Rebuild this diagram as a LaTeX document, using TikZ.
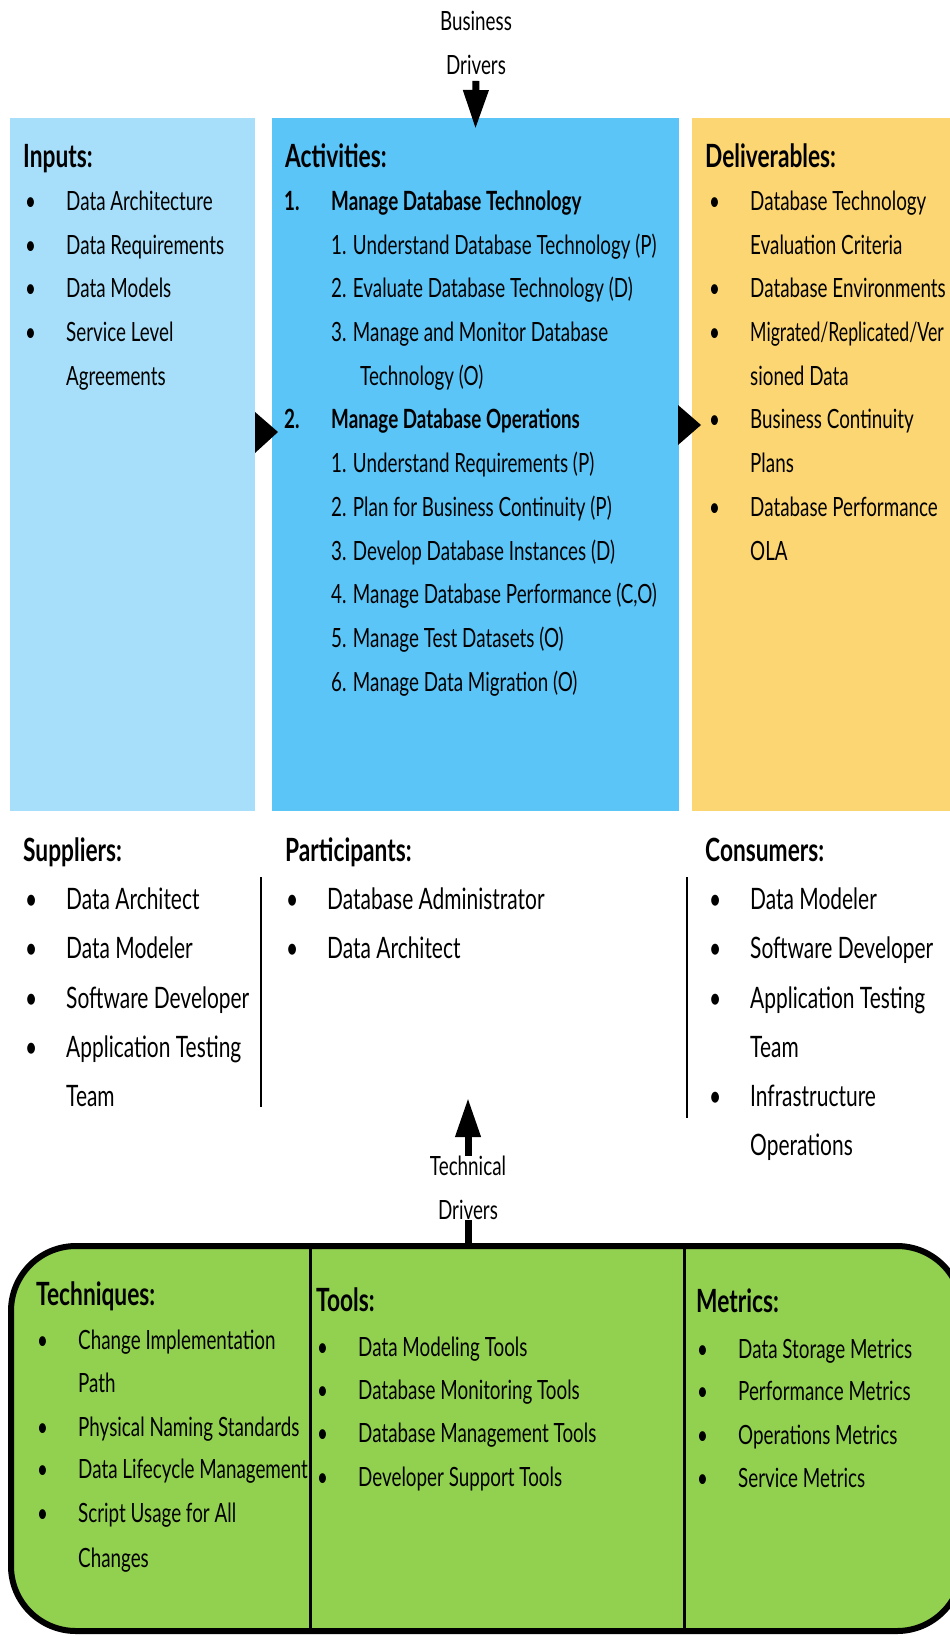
\documentclass[tikz,border=0pt]{standalone}
\usepackage{fontspec}
\setmainfont{Lato}[FakeStretch=0.71]
\usetikzlibrary{arrows.meta}

\definecolor{azulclaro}{HTML}{A7DFFA}
\definecolor{azul}{HTML}{5BC5F8}
\definecolor{amarillo}{HTML}{FCD672}
\definecolor{verde}{HTML}{92D050}

\newcommand{\fuente}{\fontsize{26.5}{44}\selectfont}
\newcommand{\fuentemedia}{\fontsize{29.5}{49}\selectfont}
\newcommand{\titulo}{\fontsize{32}{36}\selectfont\bfseries}
\newcommand{\vineta}{\makebox[41pt][l]{\textbullet}}

\tikzset{
  caja/.style={anchor=north west, inner sep=0pt, outer sep=0pt},
  txt/.style={anchor=base west, inner sep=0pt, font=\fuente},
  txtm/.style={anchor=base west, inner sep=0pt, font=\fuentemedia},
  tit/.style={anchor=base west, inner sep=0pt, font=\titulo},
  etiq/.style={align=center, inner sep=0pt, font=\fuente},
  flecha/.style={line width=7pt, -{Triangle[length=39pt, width=24pt]}},
}

\begin{document}
\begin{tikzpicture}[x=1pt, y=-1pt]
  \useasboundingbox (0,0) rectangle (950,1636);

  % Las tres cajas de arriba
  \node[caja, fill=azulclaro, minimum width=245pt, minimum height=693pt] (inputs) at (10,118) {};
  \node[caja, fill=azul, minimum width=407pt, minimum height=693pt] (act) at (272,118) {};
  \node[caja, fill=amarillo, minimum width=270pt, minimum height=693pt] (deliv) at (692,118) {};

  % Flechas triangulares entre cajas
  \fill (255,412) -- (278,432) -- (255,453) -- cycle;
  \fill (678,405) -- (701,425) -- (678,445) -- cycle;

  % Business drivers
  \node[etiq] (bd) at (476,43) {Business\\Drivers};
  \draw[flecha, shorten <=6pt] (bd.south) -- ([yshift=-11pt]act.north);

  % Inputs
  \node[tit] (tin) at (23,167) {Inputs:};
  \node[txt] (in1) at (25,210) {\vineta Data Architecture};
  \node[txt] (in2) at (25,254) {\vineta Data Requirements};
  \node[txt] (in3) at (25,297) {\vineta Data Models};
  \node[txt] (in4) at (25,341) {\vineta Service Level};
  \node[txt] (in4b) at (66,385) {Agreements};

  % Activities
  \node[tit] (tact) at (285,167) {Activities:};
  \node[txt] (a1) at (284,210) {\bfseries\makebox[47pt][l]{1.}Manage Database Technology};
  \node[txt] (a11) at (331,254) {1. Understand Database Technology (P)};
  \node[txt] (a12) at (331,297) {2. Evaluate Database Technology (D)};
  \node[txt] (a13) at (331,341) {3. Manage and Monitor Database};
  \node[txt] (a13b) at (360,385) {Technology (O)};
  \node[txt] (a2) at (284,428) {\bfseries\makebox[47pt][l]{2.}Manage Database Operations};
  \node[txt] (a21) at (331,472) {1. Understand Requirements (P)};
  \node[txt] (a22) at (331,516) {2. Plan for Business Continuity (P)};
  \node[txt] (a23) at (331,560) {3. Develop Database Instances (D)};
  \node[txt] (a24) at (331,603) {4. Manage Database Performance (C,O)};
  \node[txt] (a25) at (331,647) {5. Manage Test Datasets (O)};
  \node[txt] (a26) at (331,691) {6. Manage Data Migration (O)};

  % Deliverables
  \node[tit] (tdel) at (705,167) {Deliverables:};
  \node[txt] (d1) at (709,210) {\vineta Database Technology};
  \node[txt] (d1b) at (750,254) {Evaluation Criteria};
  \node[txt] (d2) at (709,297) {\vineta Database Environments};
  \node[txt] (d3) at (709,341) {\vineta \scalebox{0.94}[1]{Migrated/Replicated/Ver}};
  \node[txt] (d3b) at (750,385) {sioned Data};
  \node[txt] (d4) at (709,428) {\vineta Business Continuity};
  \node[txt] (d4b) at (750,472) {Plans};
  \node[txt] (d5) at (709,516) {\vineta Database Performance};
  \node[txt] (d5b) at (750,560) {OLA};

  % Suppliers
  \node[tit] (tsup) at (23,861) {Suppliers:};
  \node[txtm] (s1) at (25,909) {\vineta Data Architect};
  \node[txtm] (s2) at (25,958) {\vineta Data Modeler};
  \node[txtm] (s3) at (25,1008) {\vineta Software Developer};
  \node[txtm] (s4) at (25,1057) {\vineta Application Testing};
  \node[txtm] (s4b) at (66,1106) {Team};
  \draw[line width=2.5pt] (261,877) -- (261,1107);

  % Participants
  \node[tit] (tpar) at (285,861) {Participants:};
  \node[txtm] (p1) at (286,909) {\vineta Database Administrator};
  \node[txtm] (p2) at (286,958) {\vineta Data Architect};

  % Consumers
  \node[tit] (tcon) at (705,861) {Consumers:};
  \draw[line width=2.5pt] (687,877) -- (687,1118);
  \node[txtm] (c1) at (709,909) {\vineta Data Modeler};
  \node[txtm] (c2) at (709,958) {\vineta Software Developer};
  \node[txtm] (c3) at (709,1008) {\vineta Application Testing};
  \node[txtm] (c3b) at (750,1057) {Team};
  \node[txtm] (c4) at (709,1106) {\vineta Infrastructure};
  \node[txtm] (c4b) at (750,1155) {Operations};

  % Caja verde de abajo
  \node[caja, draw, line width=6pt, fill=verde, rounded corners=65pt,
        minimum width=951pt, minimum height=385pt] (base) at (11,1246) {};
  \draw[line width=3pt] (310,1246) -- (310,1631);
  \draw[line width=3pt] (684,1246) -- (684,1631);

  % Technical drivers
  \node[etiq] (td) at (468,1188) {Technical\\Drivers};
  \coordinate (tdtip) at (468,1098);
  \draw[flecha] (td.north) -- (tdtip);
  \draw[line width=7pt] (td.south) -- (base.north -| td);

  % Techniques
  \node[tit] (ttec) at (36,1305) {Techniques:};
  \node[txt] (t1) at (37,1349) {\vineta Change Implementation};
  \node[txt] (t1b) at (78,1392) {Path};
  \node[txt] (t2) at (37,1436) {\vineta Physical Naming Standards};
  \node[txt] (t3) at (37,1478) {\vineta Data Lifecycle Management};
  \node[txt] (t4) at (37,1522) {\vineta Script Usage for All};
  \node[txt] (t4b) at (78,1567) {Changes};

  % Tools
  \node[tit] (ttoo) at (316,1311) {Tools:};
  \node[txt] (o1) at (317,1356) {\vineta Data Modeling Tools};
  \node[txt] (o2) at (317,1399) {\vineta Database Monitoring Tools};
  \node[txt] (o3) at (317,1442) {\vineta Database Management Tools};
  \node[txt] (o4) at (317,1486) {\vineta Developer Support Tools};

  % Metrics
  \node[tit] (tmet) at (696,1312) {Metrics:};
  \node[txt] (m1) at (697,1358) {\vineta Data Storage Metrics};
  \node[txt] (m2) at (697,1400) {\vineta Performance Metrics};
  \node[txt] (m3) at (697,1444) {\vineta Operations Metrics};
  \node[txt] (m4) at (697,1487) {\vineta Service Metrics};
\end{tikzpicture}
\end{document}
